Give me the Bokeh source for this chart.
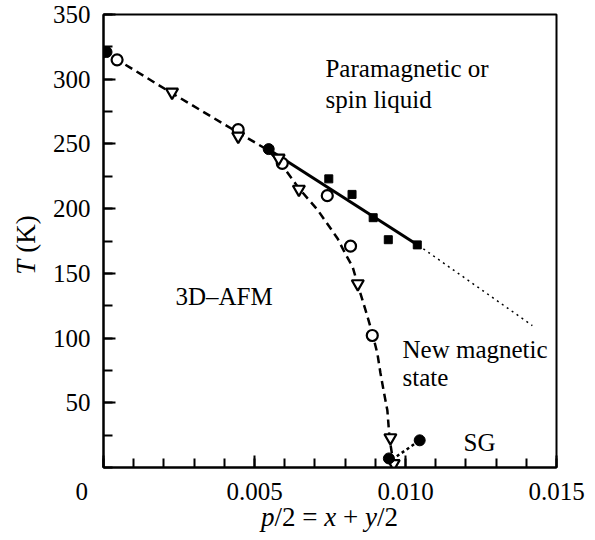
from bokeh.plotting import figure
from bokeh.models import Label, FixedTicker, NumeralTickFormatter, Div
from bokeh.layouts import column, row
from bokeh.embed import file_html
from bokeh.resources import INLINE

# ---- data ----
circle_x = [0.00045, 0.00446, 0.00592, 0.00741, 0.00818, 0.0089]
circle_y = [315, 261, 235, 210, 171, 102]

tri_x = [0.0000, 0.00227, 0.00446, 0.0058, 0.00647, 0.00842, 0.0095, 0.00961]
tri_y = [322, 290, 256, 239, 215, 142, 23, 3]

dot_x = [0.0001, 0.00547, 0.00945, 0.01047]
dot_y = [321, 246, 7, 21]

sq_x = [0.00746, 0.00823, 0.00893, 0.00943, 0.01039]
sq_y = [223, 211, 193, 176, 172]

solid_x = [0.00547, 0.01043]
solid_y = [245.7, 171.6]

dotted_x = [0.01043, 0.0142]
dotted_y = [171.6, 109.7]

sg_x = [0.00955, 0.01047]
sg_y = [6, 21]

curve_x = [0.0, 0.00046, 0.00228, 0.00444, 0.00546, 0.00593, 0.00646, 0.00709,
           0.00775, 0.00801, 0.00825, 0.00841, 0.00871, 0.00891, 0.00907,
           0.00917, 0.00927, 0.0094, 0.00947, 0.0096]
curve_y = [322, 315, 289, 259, 245, 233, 216, 199, 177, 165, 155, 142, 119,
           103, 88, 73, 60, 44, 23, 3]

x_major = [0.0, 0.005, 0.010, 0.015]
x_labels = {0.0: "0" + "\u00a0" * 7, 0.005: "0.005", 0.010: "0.010", 0.015: "0.015"}
y_major = [50, 100, 150, 200, 250, 300, 350]

FONT = "Liberation Serif"

YDIV_W = 48
FIG_H = 507

p = figure(width=595 - YDIV_W, height=FIG_H, output_backend="svg", toolbar_location=None,
           x_range=(0, 0.015), y_range=(0, 350),
           min_border_left=103 - YDIV_W, min_border_right=39, min_border_top=14,
           min_border_bottom=FIG_H - 467)
p.grid.visible = False
p.outline_line_color = "black"
p.outline_line_width = 2
p.background_fill_color = "white"
p.border_fill_color = "white"

p.xaxis.ticker = FixedTicker(ticks=x_major, minor_ticks=[i * 0.001 for i in range(16)])
p.yaxis.ticker = FixedTicker(ticks=y_major, minor_ticks=[i * 25 for i in range(15)])
p.xaxis.formatter = NumeralTickFormatter(format="0.000")
p.xaxis.major_label_overrides = x_labels
for ax in (p.xaxis, p.yaxis):
    ax.axis_line_width = 2
    ax.axis_line_color = "black"
    ax.major_tick_in = 12
    ax.major_tick_out = 0
    ax.minor_tick_in = 9
    ax.minor_tick_out = 0
    ax.major_tick_line_width = 2
    ax.minor_tick_line_width = 2
    ax.major_tick_line_color = "black"
    ax.minor_tick_line_color = "black"
    ax.major_label_text_font = FONT
    ax.major_label_text_font_size = "25px"
    ax.major_label_text_color = "black"
p.xaxis.major_label_standoff = 10
p.yaxis.major_label_standoff = 13

# lines
p.line(curve_x, curve_y, line_color="black", line_width=2.5, line_dash="8 5")
p.line(solid_x, solid_y, line_color="black", line_width=3)
p.line(dotted_x, dotted_y, line_color="black", line_width=1.5, line_dash="2 4")
p.line(sg_x, sg_y, line_color="black", line_width=2.5, line_dash="3 3")

# markers
p.scatter(circle_x, circle_y, marker="circle", size=11, fill_color="white",
          line_color="black", line_width=2.2)
p.scatter(tri_x, tri_y, marker="inverted_triangle", size=12, fill_color="white",
          line_color="black", line_width=2.2)
p.scatter(dot_x, dot_y, marker="circle", size=11, fill_color="black",
          line_color="black")
p.scatter(sq_x, sq_y, marker="square", size=8, fill_color="black",
          line_color="black")

def lab(text, x, y):
    p.add_layout(Label(x=x, y=y, text=text, text_font=FONT, text_font_size="25px",
                       text_color="black", text_baseline="alphabetic"))

# annotations
lab("Paramagnetic or", 0.00735, 308)
lab("spin liquid", 0.00735, 284)
lab("3D\u2013AFM", 0.00238, 132.5)
lab("New magnetic", 0.0099, 91)
lab("state", 0.0099, 69.5)
lab("SG", 0.01192, 19.5)

CSS_FONT = "font-family:'Liberation Serif',serif;color:black;"

ydiv = Div(width=YDIV_W, height=FIG_H, margin=0, text=(
    f'<div style="position:relative;width:{YDIV_W}px;height:{FIG_H}px;">'
    f'<div style="position:absolute;left:26px;top:245px;white-space:nowrap;'
    f'font-size:27px;line-height:27px;{CSS_FONT}'
    f'transform:translate(-50%,-50%) rotate(-90deg);">'
    '<i>T</i> (K)</div></div>'))

xdiv = Div(width=595, height=540 - FIG_H, margin=0, text=(
    f'<div style="position:relative;width:595px;height:{540 - FIG_H}px;">'
    f'<div style="position:absolute;left:0px;top:0px;width:659px;text-align:center;'
    f'white-space:nowrap;font-size:27px;line-height:20px;{CSS_FONT}">'
    '<i>p</i>/2 = <i>x</i> + <i>y</i>/2</div></div>'))

layout = column(row(ydiv, p, spacing=0), xdiv, spacing=0)

open("out.html", "w").write(file_html(layout, INLINE))
